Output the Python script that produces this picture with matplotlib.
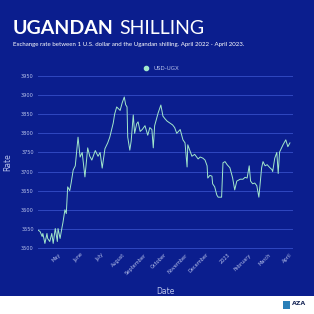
import matplotlib
matplotlib.use("Agg")
import matplotlib.pyplot as plt
import matplotlib.patches as mpatches
from matplotlib.lines import Line2D
import pandas as pd

# Exchange rate data (days since 2022-04-01, USD-UGX rate)
day_offsets = [0, 3, 6, 7, 10, 13, 14, 17, 20, 22, 25, 28, 29, 32, 35, 36, 39, 41, 43, 46,
               48, 51, 54, 58, 61, 64, 68, 72, 75, 78, 83, 87, 90, 93, 97, 101, 104, 109, 111, 114,
               119, 122, 125, 127, 129, 130, 133, 135, 138, 140, 143, 145, 148, 151, 155, 159, 162, 165, 167, 169,
               174, 178, 181, 184, 187, 191, 195, 198, 201, 206, 210, 213, 216, 217, 220, 223, 227, 232, 235, 239,
               242, 245, 246, 249, 252, 253, 256, 259, 261, 266, 268, 271, 274, 278, 281, 282, 285, 288, 293, 297,
               300, 303, 306, 308, 311, 314, 317, 320, 324, 326, 329, 332, 336, 339, 340, 343, 346, 348, 350, 355,
               359, 362, 365]
rates = [3547, 3543, 3530, 3538, 3512, 3538, 3525, 3517, 3538, 3512, 3551, 3517, 3551, 3525, 3556, 3565, 3600, 3590, 3660, 3650,
         3670, 3704, 3715, 3790, 3738, 3750, 3686, 3762, 3740, 3730, 3755, 3740, 3750, 3709, 3760, 3775, 3790, 3827, 3850, 3869,
         3860, 3880, 3895, 3875, 3869, 3790, 3756, 3780, 3848, 3800, 3825, 3830, 3805, 3810, 3820, 3795, 3815, 3810, 3762, 3820,
         3853, 3874, 3845, 3838, 3832, 3827, 3822, 3815, 3800, 3810, 3783, 3775, 3712, 3770, 3755, 3740, 3745, 3733, 3738, 3735,
         3730, 3715, 3683, 3690, 3688, 3668, 3660, 3639, 3633, 3633, 3723, 3726, 3718, 3710, 3690, 3683, 3652, 3675, 3680, 3680,
         3685, 3683, 3715, 3675, 3668, 3670, 3663, 3633, 3710, 3726, 3715, 3718, 3710, 3705, 3700, 3735, 3750, 3695, 3751, 3770,
         3783, 3765, 3775]
month_labels = ["May", "June", "July", "August", "September", "October", "November",
                "December", "2023", "February", "March", "April"]
y_ticks = [3500, 3550, 3600, 3650, 3700, 3750, 3800, 3850, 3900, 3950]

start = pd.Timestamp("2022-04-01")
dates = start + pd.to_timedelta(day_offsets, unit="D")
month_ticks = pd.date_range("2022-05-01", periods=12, freq="MS")

bg = "#0b1e8e"
grid_c = "#3048c0"
line_c = "#a2e8cc"
text_c = "#b9c3ec"

fig = plt.figure(figsize=(3.14, 3.14), dpi=100)
fig.patch.set_facecolor(bg)

# white footer strip
fig.add_artist(mpatches.Rectangle((0, 0), 1, 18 / 314, transform=fig.transFigure,
                                  facecolor="white", edgecolor="none"))

ax = fig.add_axes([38 / 314, 1 - 248 / 314, 254 / 314, 172 / 314])
ax.set_facecolor(bg)
ax.plot(dates, rates, color=line_c, lw=0.7)

ax.set_ylim(3500, 3950)
ax.set_yticks(y_ticks)
ax.set_yticklabels([str(v) for v in y_ticks])
ax.set_xlim(start, start + pd.Timedelta(days=368))
ax.set_xticks(month_ticks)
ax.set_xticklabels(month_labels, rotation=45, ha="right", rotation_mode="anchor")
ax.tick_params(length=0, labelsize=3.6, colors=text_c, pad=3)
ax.grid(axis="y", color=grid_c, lw=0.7)
ax.grid(axis="x", visible=False)
for s in ax.spines.values():
    s.set_visible(False)
for gl in ax.get_ygridlines():
    gl.set_clip_on(False)

ax.set_ylabel("Rate", color=text_c, fontsize=5.5, labelpad=6)
ax.set_xlabel("Date", color=text_c, fontsize=5.5, labelpad=8)

handle = Line2D([], [], marker="o", color=line_c, lw=0, markersize=3)
ax.legend([handle], ["USD-UGX"], loc="lower center", bbox_to_anchor=(0.48, 1.0),
          frameon=False, fontsize=4, labelcolor=text_c, handletextpad=0.2)

# title and subtitle
t1 = fig.text(13 / 314, 1 - 34 / 314, "UGANDAN", color="white", fontsize=14,
              fontweight="bold", family="Lato")
fig.canvas.draw()
bb = t1.get_window_extent(fig.canvas.get_renderer())
fig.text(bb.x1 / fig.bbox.width + 5 / 314, 1 - 34 / 314, "SHILLING", color="white",
         fontsize=14, family="Lato")
fig.text(13 / 314, 1 - 46 / 314,
         "Exchange rate between 1 U.S. dollar and the Ugandan shilling. April 2022 - April 2023.",
         color="white", fontsize=4.4, family="Lato")

# logo
fig.add_artist(mpatches.Rectangle((283 / 314, 5 / 314), 7 / 314, 8 / 314,
                                  transform=fig.transFigure, facecolor="#2a7fb8", edgecolor="none"))
fig.text(292 / 314, 9 / 314, "AZA", color="#1b2a5a", fontsize=4.5, fontweight="bold")

fig.savefig("out.png", dpi=100, facecolor=fig.get_facecolor())
